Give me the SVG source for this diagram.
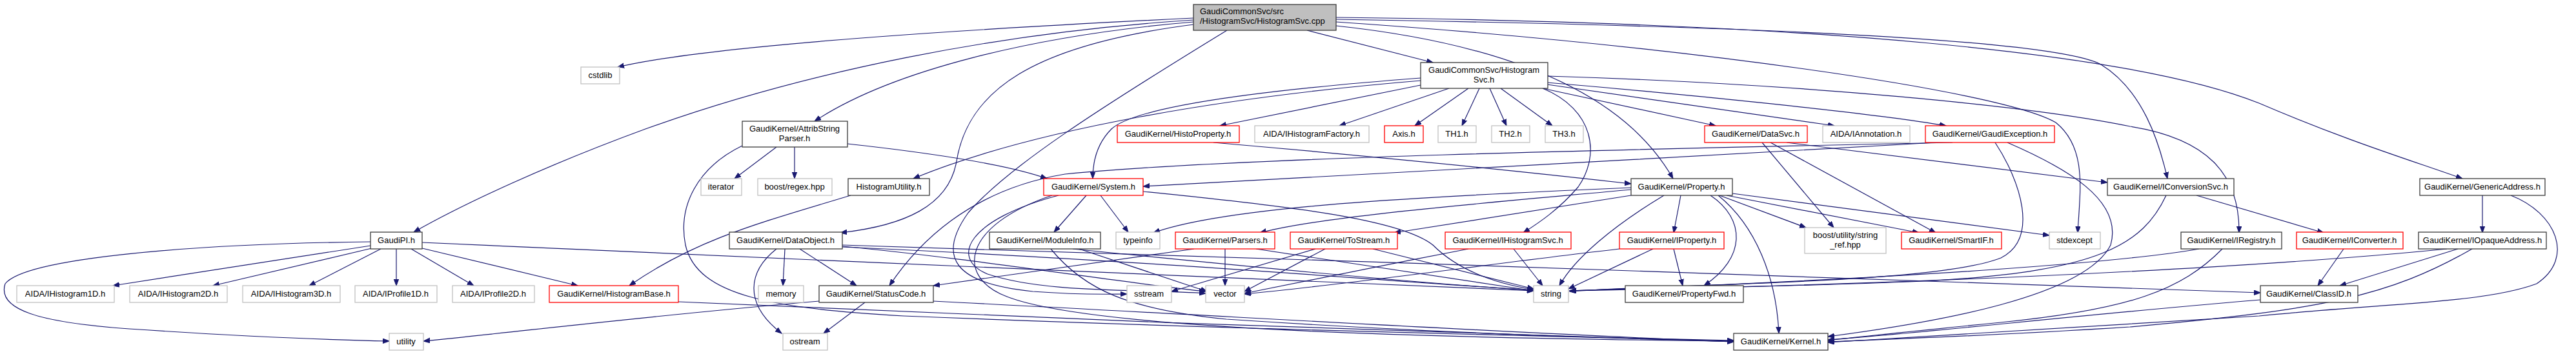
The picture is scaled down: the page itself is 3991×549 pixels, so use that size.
<svg xmlns="http://www.w3.org/2000/svg" width="3991" height="549" viewBox="0 0 3991 549">
<style>
rect{fill:#fff;stroke-width:1.3}
.k rect{stroke:#3a3a3a}
.g rect{stroke:#c0c0c0}
.r rect{stroke:#ff0000}
.root rect{fill:#bfbfbf;stroke:#3a3a3a}
text{font-family:"Liberation Sans",Arial,Helvetica,sans-serif;font-size:13px;fill:#000;text-anchor:middle}
.e{fill:none;stroke:#191970;stroke-width:1.2;marker-end:url(#a)}
</style>
<defs>
<marker id="a" markerWidth="11" markerHeight="9" refX="10" refY="4" orient="auto" markerUnits="userSpaceOnUse"><path d="M0,0.3 L10,4 L0,7.7 z" fill="#191970" stroke="#191970"/></marker>
</defs>
<rect x="0" y="0" width="3991" height="549" style="fill:#fff;stroke:none"/>
<g id="edges">
<path class="e" d="M1849,28 C1500,45 1100,70 957,104"/>
<path class="e" d="M1849,34 C1600,55 1380,110 1262,188"/>
<path class="e" d="M1849,31 C1550,50 1250,110 1000,200 C850,255 720,315 641,360"/>
<path class="e" d="M1849,38 C1600,70 1500,140 1482,250 C1470,320 1400,350 1302,361"/>
<path class="e" d="M1901,47 C1700,170 1560,260 1500,330 C1450,400 1480,440 1600,452 C1680,458 1720,456 1746,456"/>
<path class="e" d="M2025,47 L2220,97"/>
<path class="e" d="M2070,40 C2350,70 2520,150 2592,277"/>
<path class="e" d="M2070,34 C2600,70 3100,140 3185,190 C3235,230 3222,300 3219,361"/>
<path class="e" d="M2070,30 C2700,40 3180,60 3255,100 C3320,140 3345,220 3358,277"/>
<path class="e" d="M2070,27 C2800,35 3300,80 3500,160 C3640,220 3740,250 3815,277"/>
<path class="e" d="M2201,132 L1890,195"/>
<path class="e" d="M2201,121 C1950,140 1760,165 1722,200 C1697,225 1693,255 1693,277"/>
<path class="e" d="M2201,125 C1900,150 1600,200 1415,277"/>
<path class="e" d="M2245,137 L2075,195"/>
<path class="e" d="M2275,137 L2192,195"/>
<path class="e" d="M2292,137 L2265,195"/>
<path class="e" d="M2308,137 L2334,195"/>
<path class="e" d="M2325,137 L2405,195"/>
<path class="e" d="M2390,137 L2658,195"/>
<path class="e" d="M2397,131 L2842,195"/>
<path class="e" d="M2397,128 C2600,145 2900,175 3015,195"/>
<path class="e" d="M2397,118 C2800,130 3150,165 3300,196 C3420,215 3470,270 3469,361"/>
<path class="e" d="M2390,137 C2470,170 2480,240 2445,290 C2415,325 2385,345 2360,361"/>
<path class="e" d="M1203,228 L1138,277"/>
<path class="e" d="M1231,228 L1231,277"/>
<path class="e" d="M1313,223 C1450,238 1560,255 1622,277"/>
<path class="e" d="M1150,226 C1080,260 1050,320 1062,380 C1080,460 1200,478 1400,490 C1900,510 2400,522 2686,528"/>
<path class="e" d="M1318,303 C1180,345 1080,370 975,443"/>
<path class="e" d="M574,381 L175,443"/>
<path class="e" d="M576,385 L330,443"/>
<path class="e" d="M590,386 L479,443"/>
<path class="e" d="M614,386 L614,443"/>
<path class="e" d="M637,386 L734,443"/>
<path class="e" d="M654,385 L895,443"/>
<path class="e" d="M574,375 C300,378 40,400 8,440 C-5,480 60,500 200,510 C350,520 500,527 603,529"/>
<path class="e" d="M654,376 C1200,398 2000,440 2376,451"/>
<path class="e" d="M1051,468 C1500,490 2300,520 2686,530"/>
<path class="e" d="M1216,386 L1213,443"/>
<path class="e" d="M1203,386 C1160,420 1150,470 1211,517"/>
<path class="e" d="M1239,386 L1327,443"/>
<path class="e" d="M1305,380 C2000,398 3000,440 3502,454"/>
<path class="e" d="M1305,383 C1800,405 2200,440 2376,450"/>
<path class="e" d="M1305,382 C1500,400 1750,440 1868,452"/>
<path class="e" d="M1340,469 L1276,517"/>
<path class="e" d="M1269,467 C1000,490 800,515 656,529"/>
<path class="e" d="M1446,467 C1900,490 2400,520 2686,530"/>
<path class="e" d="M1683,303 L1633,360"/>
<path class="e" d="M1705,303 L1748,360"/>
<path class="e" d="M1771,297 C2000,320 2170,340 2220,380 C2260,420 2320,440 2376,449"/>
<path class="e" d="M1640,303 C1500,340 1470,400 1530,425 C1620,455 1760,448 1868,455"/>
<path class="e" d="M1630,303 C1490,350 1480,430 1560,460 C1700,515 2300,525 2686,529"/>
<path class="e" d="M1628,386 C1680,450 1750,480 1900,495 C2200,515 2500,525 2686,529"/>
<path class="e" d="M1662,386 C1900,410 2200,440 2376,450"/>
<path class="e" d="M1672,386 L1870,452"/>
<path class="e" d="M1850,386 L1446,443"/>
<path class="e" d="M1898,386 L1898,443"/>
<path class="e" d="M1946,386 L2376,451"/>
<path class="e" d="M2038,386 L1815,452"/>
<path class="e" d="M2053,386 L1928,452"/>
<path class="e" d="M2127,386 L2376,448"/>
<path class="e" d="M2345,386 L2390,443"/>
<path class="e" d="M2275,386 C2150,410 2000,440 1928,455"/>
<path class="e" d="M2561,386 L2430,448"/>
<path class="e" d="M2593,386 L2607,443"/>
<path class="e" d="M2509,386 C2300,410 2100,440 1928,456"/>
<path class="e" d="M2527,291 C2200,305 1900,320 1787,361"/>
<path class="e" d="M2527,294 C2300,315 2050,335 1952,361"/>
<path class="e" d="M2527,303 L2160,361"/>
<path class="e" d="M2578,303 C2500,350 2440,400 2416,443"/>
<path class="e" d="M2604,303 L2593,361"/>
<path class="e" d="M2650,303 C2705,340 2705,400 2640,443"/>
<path class="e" d="M2662,303 C2720,350 2752,430 2756,517"/>
<path class="e" d="M2664,303 L2798,353"/>
<path class="e" d="M2675,303 L2973,361"/>
<path class="e" d="M2684,300 L3175,365"/>
<path class="e" d="M1880,221 C2100,240 2350,265 2527,285"/>
<path class="e" d="M2730,221 L2841,353"/>
<path class="e" d="M2743,221 L2999,361"/>
<path class="e" d="M2768,221 C3000,250 3150,268 3265,283"/>
<path class="e" d="M3000,221 C2600,245 2000,275 1771,289"/>
<path class="e" d="M3025,221 C2500,232 1900,245 1650,270 C1500,295 1420,380 1378,443"/>
<path class="e" d="M3091,221 C3130,280 3160,370 3100,400 C3000,440 2600,440 2432,452"/>
<path class="e" d="M3110,221 C3200,260 3290,310 3270,380 C3230,460 3000,500 2832,522"/>
<path class="e" d="M3403,303 L3600,361"/>
<path class="e" d="M3356,303 C3320,380 3250,420 3000,435 C2800,445 2600,445 2432,451"/>
<path class="e" d="M3407,386 C3300,405 3000,430 2432,451"/>
<path class="e" d="M3443,386 C3380,450 3300,480 3100,500 C3000,510 2900,520 2832,528"/>
<path class="e" d="M3631,386 L3591,443"/>
<path class="e" d="M3791,386 C3500,415 3000,440 2432,451"/>
<path class="e" d="M3808,386 L3625,443"/>
<path class="e" d="M3830,386 C3700,460 3600,480 3300,507 C3100,520 2950,525 2832,530"/>
<path class="e" d="M3846,303 L3846,361"/>
<path class="e" d="M3890,303 C3960,330 3990,400 3930,440 C3850,470 3700,470 3500,490 C3200,510 3000,522 2832,531"/>
<path class="e" d="M3502,465 C3200,490 3000,515 2832,527"/>
</g>
<g id="n_root" class="root"><rect x="1849" y="7" width="221" height="40"/><text x="1859" y="22" style="text-anchor:start">GaudiCommonSvc/src</text><text x="1859" y="37" style="text-anchor:start">/HistogramSvc/HistogramSvc.cpp</text></g>
<g id="n_cstdlib" class="g"><rect x="900" y="104" width="60" height="26"/><text x="930" y="121">cstdlib</text></g>
<g id="n_attrib" class="k"><rect x="1150" y="188" width="163" height="40"/><text x="1231" y="204">GaudiKernel/AttribString</text><text x="1231" y="219">Parser.h</text></g>
<g id="n_histosvch" class="k"><rect x="2201" y="97" width="197" height="40"/><text x="2299" y="113">GaudiCommonSvc/Histogram</text><text x="2299" y="128">Svc.h</text></g>
<g id="n_histoprop" class="r"><rect x="1731" y="195" width="189" height="26"/><text x="1825" y="212">GaudiKernel/HistoProperty.h</text></g>
<g id="n_ihfactory" class="g"><rect x="1944" y="195" width="177" height="26"/><text x="2032" y="212">AIDA/IHistogramFactory.h</text></g>
<g id="n_axis" class="r"><rect x="2145" y="195" width="60" height="26"/><text x="2175" y="212">Axis.h</text></g>
<g id="n_th1" class="g"><rect x="2228" y="195" width="59" height="26"/><text x="2257" y="212">TH1.h</text></g>
<g id="n_th2" class="g"><rect x="2311" y="195" width="59" height="26"/><text x="2340" y="212">TH2.h</text></g>
<g id="n_th3" class="g"><rect x="2394" y="195" width="59" height="26"/><text x="2423" y="212">TH3.h</text></g>
<g id="n_datasvc" class="r"><rect x="2641" y="195" width="159" height="26"/><text x="2720" y="212">GaudiKernel/DataSvc.h</text></g>
<g id="n_iannot" class="g"><rect x="2824" y="195" width="135" height="26"/><text x="2891" y="212">AIDA/IAnnotation.h</text></g>
<g id="n_gexc" class="r"><rect x="2983" y="195" width="200" height="26"/><text x="3083" y="212">GaudiKernel/GaudiException.h</text></g>
<g id="n_iterator" class="g"><rect x="1086" y="277" width="63" height="26"/><text x="1117" y="294">iterator</text></g>
<g id="n_regex" class="g"><rect x="1174" y="277" width="115" height="26"/><text x="1231" y="294">boost/regex.hpp</text></g>
<g id="n_hutil" class="k"><rect x="1314" y="277" width="126" height="26"/><text x="1377" y="294">HistogramUtility.h</text></g>
<g id="n_system" class="r"><rect x="1617" y="277" width="154" height="26"/><text x="1694" y="294">GaudiKernel/System.h</text></g>
<g id="n_property" class="k"><rect x="2527" y="277" width="157" height="26"/><text x="2605" y="294">GaudiKernel/Property.h</text></g>
<g id="n_iconvsvc" class="k"><rect x="3265" y="277" width="196" height="26"/><text x="3363" y="294">GaudiKernel/IConversionSvc.h</text></g>
<g id="n_genaddr" class="k"><rect x="3749" y="277" width="194" height="26"/><text x="3846" y="294">GaudiKernel/GenericAddress.h</text></g>
<g id="n_gaudipi" class="k"><rect x="574" y="360" width="80" height="26"/><text x="614" y="377">GaudiPI.h</text></g>
<g id="n_dataobj" class="k"><rect x="1130" y="360" width="175" height="26"/><text x="1217" y="377">GaudiKernel/DataObject.h</text></g>
<g id="n_modinfo" class="k"><rect x="1533" y="360" width="172" height="26"/><text x="1619" y="377">GaudiKernel/ModuleInfo.h</text></g>
<g id="n_typeinfo" class="g"><rect x="1729" y="360" width="68" height="26"/><text x="1763" y="377">typeinfo</text></g>
<g id="n_parsers" class="r"><rect x="1821" y="360" width="154" height="26"/><text x="1898" y="377">GaudiKernel/Parsers.h</text></g>
<g id="n_tostream" class="r"><rect x="1999" y="360" width="166" height="26"/><text x="2082" y="377">GaudiKernel/ToStream.h</text></g>
<g id="n_ihsvc" class="r"><rect x="2239" y="360" width="195" height="26"/><text x="2336" y="377">GaudiKernel/IHistogramSvc.h</text></g>
<g id="n_iprop" class="r"><rect x="2509" y="360" width="162" height="26"/><text x="2590" y="377">GaudiKernel/IProperty.h</text></g>
<g id="n_strref" class="g"><rect x="2796" y="353" width="126" height="40"/><text x="2859" y="369">boost/utility/string</text><text x="2859" y="384">_ref.hpp</text></g>
<g id="n_smartif" class="r"><rect x="2946" y="360" width="155" height="26"/><text x="3023" y="377">GaudiKernel/SmartIF.h</text></g>
<g id="n_stdexcept" class="g"><rect x="3175" y="360" width="79" height="26"/><text x="3214" y="377">stdexcept</text></g>
<g id="n_iregistry" class="k"><rect x="3379" y="360" width="156" height="26"/><text x="3457" y="377">GaudiKernel/IRegistry.h</text></g>
<g id="n_iconverter" class="r"><rect x="3558" y="360" width="165" height="26"/><text x="3640" y="377">GaudiKernel/IConverter.h</text></g>
<g id="n_iopaque" class="k"><rect x="3747" y="360" width="198" height="26"/><text x="3846" y="377">GaudiKernel/IOpaqueAddress.h</text></g>
<g id="n_ih1d" class="g"><rect x="26" y="443" width="151" height="26"/><text x="101" y="460">AIDA/IHistogram1D.h</text></g>
<g id="n_ih2d" class="g"><rect x="201" y="443" width="151" height="26"/><text x="276" y="460">AIDA/IHistogram2D.h</text></g>
<g id="n_ih3d" class="g"><rect x="376" y="443" width="151" height="26"/><text x="451" y="460">AIDA/IHistogram3D.h</text></g>
<g id="n_ip1d" class="g"><rect x="550" y="443" width="127" height="26"/><text x="613" y="460">AIDA/IProfile1D.h</text></g>
<g id="n_ip2d" class="g"><rect x="701" y="443" width="127" height="26"/><text x="764" y="460">AIDA/IProfile2D.h</text></g>
<g id="n_hbase" class="r"><rect x="851" y="443" width="200" height="26"/><text x="951" y="460">GaudiKernel/HistogramBase.h</text></g>
<g id="n_memory" class="g"><rect x="1175" y="443" width="70" height="26"/><text x="1210" y="460">memory</text></g>
<g id="n_statuscode" class="k"><rect x="1269" y="443" width="177" height="26"/><text x="1357" y="460">GaudiKernel/StatusCode.h</text></g>
<g id="n_sstream" class="g"><rect x="1746" y="443" width="69" height="26"/><text x="1780" y="460">sstream</text></g>
<g id="n_vector" class="g"><rect x="1868" y="443" width="60" height="26"/><text x="1898" y="460">vector</text></g>
<g id="n_string" class="g"><rect x="2376" y="443" width="54" height="26"/><text x="2403" y="460">string</text></g>
<g id="n_propfwd" class="k"><rect x="2518" y="443" width="183" height="26"/><text x="2609" y="460">GaudiKernel/PropertyFwd.h</text></g>
<g id="n_classid" class="k"><rect x="3502" y="443" width="151" height="26"/><text x="3577" y="460">GaudiKernel/ClassID.h</text></g>
<g id="n_utility" class="g"><rect x="603" y="517" width="53" height="26"/><text x="629" y="534">utility</text></g>
<g id="n_ostream" class="g"><rect x="1213" y="517" width="69" height="26"/><text x="1247" y="534">ostream</text></g>
<g id="n_kernel" class="k"><rect x="2686" y="517" width="146" height="26"/><text x="2759" y="534">GaudiKernel/Kernel.h</text></g>
</svg>
